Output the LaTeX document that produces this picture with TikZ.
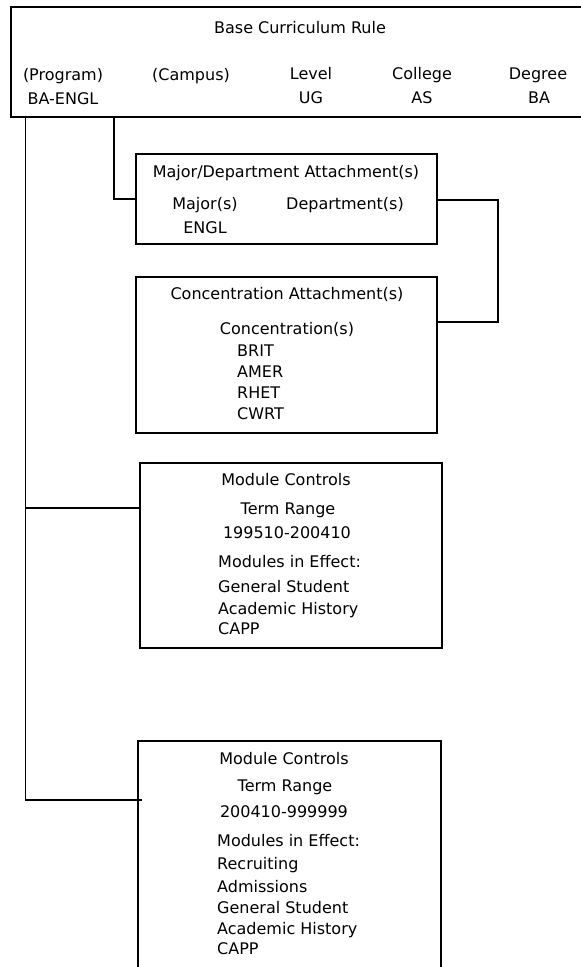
\documentclass[tikz,border=0pt]{standalone}
\usepackage{fontspec}
\setmainfont{DejaVu Sans}
\begin{document}
\begin{tikzpicture}[x=1pt,y=-1pt,
  box/.style={draw, line width=1.2pt, rectangle, inner sep=0pt, outer sep=0pt, anchor=north west},
  wire/.style={draw, line width=1.2pt},
  lbl/.style={inner sep=0pt, text height=12pt, text depth=0pt, font=\fontsize{16}{19}\selectfont},
  lft/.style={lbl, anchor=west}]
\useasboundingbox (0,0) rectangle (581,967);
\clip (0,0) rectangle (581,967);

% boxes
\node[box, minimum width=590pt, minimum height=110pt] (base) at (11,7) {};
\node[box, minimum width=301pt, minimum height=90pt] (maj) at (136,154) {};
\node[box, minimum width=301pt, minimum height=156pt] (conc) at (136,277) {};
\node[box, minimum width=302pt, minimum height=185pt] (modA) at (140,463) {};
\node[box, minimum width=303pt, minimum height=240pt] (modB) at (138,741) {};

% connector end points
\coordinate (trunk) at ([xshift=14.5pt]base.south west);
\coordinate (branch) at ([xshift=103pt]base.south west);
\coordinate (majIn) at ([yshift=-45pt]maj.north west);
\coordinate (majOut) at ([yshift=-46pt]maj.north east);
\coordinate (concIn) at ([yshift=-45pt]conc.north east);
\coordinate (modAIn) at ([yshift=-45pt]modA.north west);
\coordinate (modBIn) at ([xshift=4pt,yshift=-59pt]modB.north west);

% connectors
\draw[wire] (trunk) |- (modBIn);
\draw[wire] (trunk |- modAIn) -- (modAIn);
\draw[wire] (branch) |- (majIn);
\draw[wire] (majOut) -- ++(61,0) |- (concIn);

% base curriculum rule
\node[lbl] (tBase) at (300,27) {Base Curriculum Rule};
\node[lbl] (tProg) at (63,74) {(Program)};
\node[lbl] (vProg) at (63,98) {BA-ENGL};
\node[lbl] (tCamp) at (191,74) {(Campus)};
\node[lbl] (tLev) at (311,73) {Level};
\node[lbl] (vLev) at (311,97) {UG};
\node[lbl] (tColl) at (422,73) {College};
\node[lbl] (vColl) at (422,97) {AS};
\node[lbl] (tDeg) at (538,73) {Degree};
\node[lbl] (vDeg) at (539,97) {BA};

% major / department
\node[lbl] (tMaj) at (286,171) {Major/Department Attachment(s)};
\node[lbl] (hMaj) at (205,203) {Major(s)};
\node[lbl] (hDep) at (345,203) {Department(s)};
\node[lbl] (vMaj) at (205,227) {ENGL};

% concentrations
\node[lbl] (tConc) at (287,293) {Concentration Attachment(s)};
\node[lbl] (hConc) at (287,328) {Concentration(s)};
\node[lft] (c1) at (237,350) {BRIT};
\node[lft] (c2) at (237,371) {AMER};
\node[lft] (c3) at (237,392) {RHET};
\node[lft] (c4) at (237,413) {CWRT};

% first module controls
\node[lbl] (tModA) at (286,479) {Module Controls};
\node[lbl] (hTermA) at (288,508) {Term Range};
\node[lbl] (vTermA) at (287,532) {199510-200410};
\node[lft] (hEffA) at (218,561) {Modules in Effect:};
\node[lft] (a1) at (218,586) {General Student};
\node[lft] (a2) at (218,608) {Academic History};
\node[lft] (a3) at (218,628) {CAPP};

% second module controls
\node[lbl] (tModB) at (284,758) {Module Controls};
\node[lbl] (hTermB) at (285,785) {Term Range};
\node[lbl] (vTermB) at (284,811) {200410-999999};
\node[lft] (hEffB) at (217,840) {Modules in Effect:};
\node[lft] (b1) at (217,863) {Recruiting};
\node[lft] (b2) at (217,886) {Admissions};
\node[lft] (b3) at (217,907) {General Student};
\node[lft] (b4) at (217,928) {Academic History};
\node[lft] (b5) at (217,948) {CAPP};
\end{tikzpicture}
\end{document}
